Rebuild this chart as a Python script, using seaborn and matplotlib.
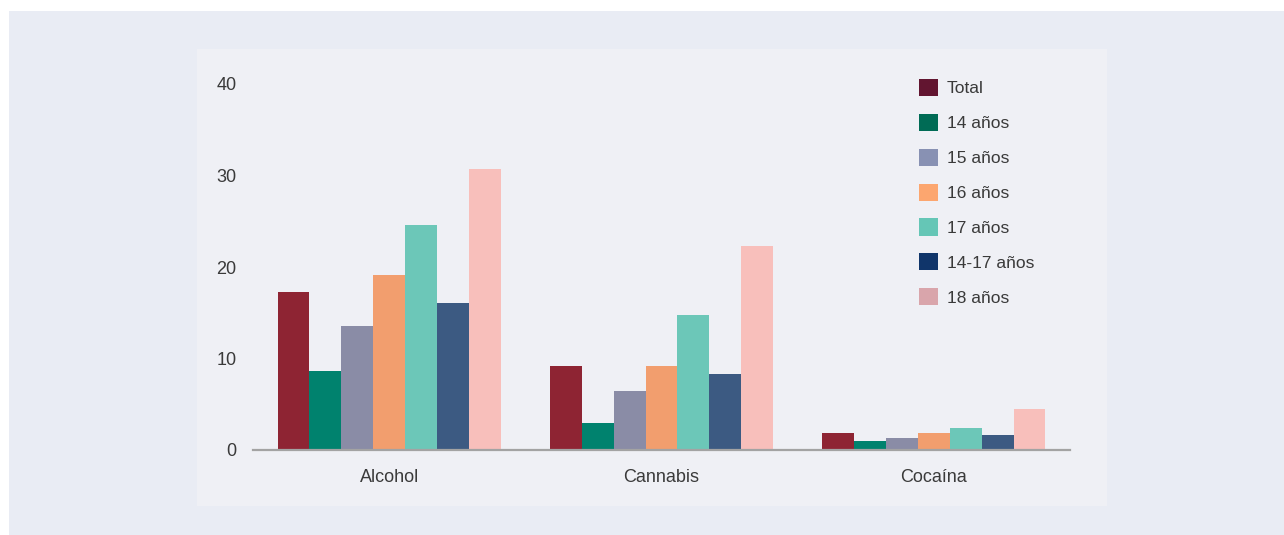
import pandas as pd
import seaborn as sns
import matplotlib.pyplot as plt
from matplotlib.patches import Patch, Rectangle

# data
substances = ["Alcohol", "Cannabis", "Cocaína"]
groups = ["Total", "14 años", "15 años", "16 años", "17 años", "14-17 años", "18 años"]
total = [17.3, 9.2, 1.9]
age_14 = [8.6, 3.0, 1.0]
age_15 = [13.5, 6.5, 1.3]
age_16 = [19.1, 9.2, 1.9]
age_17 = [24.6, 14.7, 2.4]
age_14_17 = [16.1, 8.3, 1.6]
age_18 = [30.7, 22.3, 4.5]

bar_colors = ["#8e2433", "#00826e", "#8a8ca6", "#f29e6e", "#6cc7b8", "#3c5a82", "#f8bfbb"]
legend_colors = ["#621530", "#006b55", "#8891b3", "#fca66f", "#65c6b6", "#10356a", "#d9a5ab"]

series = [total, age_14, age_15, age_16, age_17, age_14_17, age_18]
rows = []
for g, vals in zip(groups, series):
    for s, v in zip(substances, vals):
        rows.append({"sustancia": s, "grupo": g, "valor": v})
df = pd.DataFrame(rows)

sns.set_style("white")
plt.rcParams['font.family'] = ['Liberation Sans', 'DejaVu Sans']
text_color = "#3a3a3a"

W, H = 1284, 535
fig = plt.figure(figsize=(W / 100, H / 100), dpi=100, facecolor="white")

# background panels, kept behind the axes
fig.patches.append(Rectangle((9 / W, 0), 1 - 9 / W, (H - 11) / H, transform=fig.transFigure,
                             facecolor="#e9ecf4", edgecolor="none", zorder=-10))
fig.patches.append(Rectangle((197 / W, (H - 506) / H), (1107 - 197) / W, (506 - 49) / H,
                             transform=fig.transFigure, facecolor="#eff0f5", edgecolor="none", zorder=-9))

ax = fig.add_axes([253 / W, (H - 450) / H, 817 / W, 366 / H])
ax.set_facecolor("none")

sns.barplot(data=df, x="sustancia", y="valor", hue="grupo", order=substances,
            hue_order=groups, palette=bar_colors, width=0.82, linewidth=0,
            saturation=1, legend=False, ax=ax)

ax.set_xlim(-0.5, 2.5)
ax.set_ylim(0, 40)
ax.set_yticks([0, 10, 20, 30, 40])
ax.set_xlabel("")
ax.set_ylabel("")
for side in ["top", "right", "left"]:
    ax.spines[side].set_visible(False)
ax.spines["bottom"].set_color("#a3a3a3")
ax.spines["bottom"].set_linewidth(1.6)
ax.tick_params(axis="y", length=0, pad=12, labelsize=13, labelcolor=text_color)
ax.tick_params(axis="x", length=0, pad=14, labelsize=13, labelcolor=text_color)

handles = [Patch(facecolor=c, edgecolor="none", label=g) for g, c in zip(groups, legend_colors)]
leg = fig.legend(handles=handles, loc="upper left", bbox_to_anchor=(912 / W, (H - 72) / H),
                 frameon=False, fontsize=12.5, handlelength=1.1, handleheight=1.15,
                 handletextpad=0.5, labelspacing=1.0, borderaxespad=0)
for t in leg.get_texts():
    t.set_color(text_color)

fig.savefig("out.png", dpi=100, facecolor="white")
